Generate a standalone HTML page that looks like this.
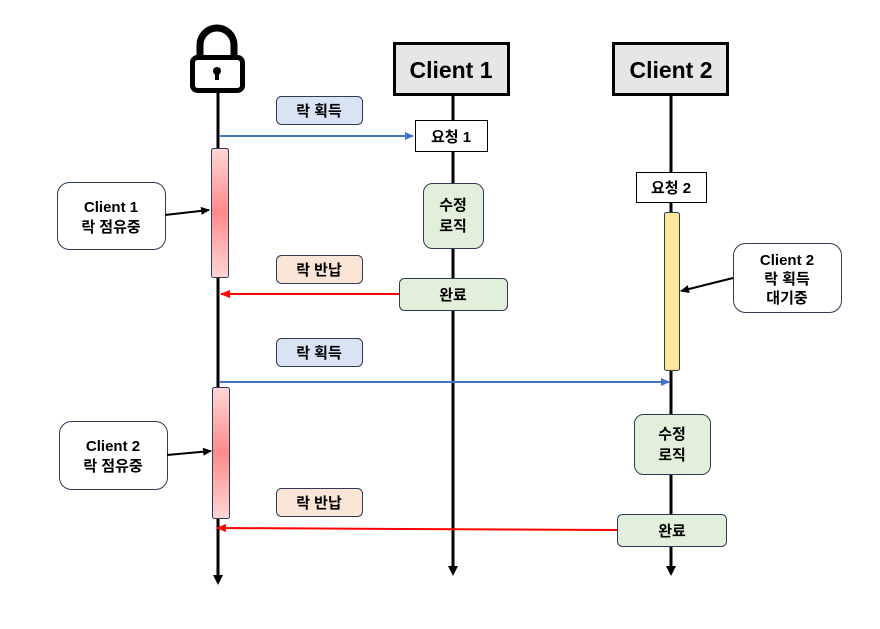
<!DOCTYPE html>
<html><head><meta charset="utf-8"><style>
html,body{margin:0;padding:0;background:#fff;}
svg{display:block;}
text{font-family:"Liberation Sans","Noto Sans CJK KR",sans-serif;font-size:15px;font-weight:bold;fill:#000;text-anchor:middle;}
</style></head><body>
<svg width="880" height="629" viewBox="0 0 880 629" xmlns="http://www.w3.org/2000/svg">
<defs>
<marker id="ak" markerWidth="10" markerHeight="10" refX="8" refY="5" orient="auto" markerUnits="userSpaceOnUse"><path d="M0,1 L9,5 L0,9 z" fill="#000"/></marker>
<marker id="ab" markerWidth="10" markerHeight="10" refX="8" refY="5" orient="auto" markerUnits="userSpaceOnUse"><path d="M0,1 L9,5 L0,9 z" fill="#4472c4"/></marker>
<marker id="ar" markerWidth="12" markerHeight="10" refX="9" refY="5" orient="auto" markerUnits="userSpaceOnUse"><path d="M0,1 L10,5 L0,9 z" fill="#f00"/></marker>
<linearGradient id="rg" x1="0" y1="0" x2="0" y2="1">
<stop offset="0" stop-color="#ffd6d6"/><stop offset="0.5" stop-color="#ff8a8a"/><stop offset="1" stop-color="#ffd6d6"/></linearGradient>
</defs>
<line x1="218" y1="92" x2="218" y2="576" stroke="#000" stroke-width="3"/>
<path d="M213,575 L223,575 L218,585 z" fill="#000"/>
<line x1="453" y1="95" x2="453" y2="566" stroke="#000" stroke-width="3"/>
<path d="M448,566 L458,566 L453,576 z" fill="#000"/>
<line x1="671" y1="95" x2="671" y2="566" stroke="#000" stroke-width="3"/>
<path d="M666,566 L676,566 L671,576 z" fill="#000"/>
<path d="M200,58 V45 A17,17 0 0 1 234,45 V58" fill="none" stroke="#000" stroke-width="7"/>
<rect x="192.5" y="57.5" width="50" height="33" rx="5" fill="#fff" stroke="#000" stroke-width="5"/>
<circle cx="217" cy="71" r="4" fill="#000"/>
<rect x="215" y="71" width="4" height="9" fill="#000"/>
<rect x="394.5" y="43.5" width="114" height="51" fill="#e6e6e6" stroke="#000" stroke-width="3"/>
<text x="451" y="78" style="font-size:23px">Client 1</text>
<rect x="613.5" y="43.5" width="114" height="51" fill="#e6e6e6" stroke="#000" stroke-width="3"/>
<text x="671" y="78" style="font-size:23px">Client 2</text>
<g stroke="#2f3b52" stroke-width="1">
<rect x="276.5" y="96.5" width="86" height="28" rx="5" fill="#dae3f3"/>
<rect x="276.5" y="255.5" width="86" height="28" rx="5" fill="#fbe5d6"/>
<rect x="276.5" y="338.5" width="86" height="28" rx="5" fill="#dae3f3"/>
<rect x="276.5" y="488.5" width="86" height="28" rx="5" fill="#fbe5d6"/>
</g>
<text x="319" y="116">락 획득</text>
<text x="319" y="275">락 반납</text>
<text x="319" y="358">락 획득</text>
<text x="319" y="508">락 반납</text>
<rect x="415.5" y="120.5" width="72" height="31" fill="#fff" stroke="#000" stroke-width="1"/>
<text x="451" y="142">요청 1</text>
<rect x="636.5" y="172.5" width="70" height="30" fill="#fff" stroke="#000" stroke-width="1"/>
<text x="671" y="193">요청 2</text>
<line x1="219" y1="136" x2="413" y2="136" stroke="#4472c4" stroke-width="2" marker-end="url(#ab)"/>
<line x1="219" y1="382" x2="669" y2="382" stroke="#4472c4" stroke-width="2" marker-end="url(#ab)"/>
<line x1="399" y1="294" x2="221" y2="294" stroke="#f00" stroke-width="2" marker-end="url(#ar)"/>
<line x1="617" y1="530" x2="217" y2="528" stroke="#f00" stroke-width="2" marker-end="url(#ar)"/>
<rect x="211.5" y="148.5" width="17" height="129" rx="2" fill="url(#rg)" stroke="#2f3b52"/>
<rect x="212.5" y="387.5" width="17" height="131" rx="2" fill="url(#rg)" stroke="#2f3b52"/>
<rect x="664.5" y="212.5" width="15" height="158" rx="2" fill="#ffe699" stroke="#2f3b52"/>
<g fill="#e2efda" stroke="#2f3b52" stroke-width="1">
<rect x="423.5" y="183.5" width="60" height="65" rx="9"/>
<rect x="399.5" y="278.5" width="108" height="32" rx="5"/>
<rect x="634.5" y="414.5" width="76" height="60" rx="9"/>
<rect x="617.5" y="514.5" width="109" height="32" rx="5"/>
</g>
<text x="453" y="210">수정</text><text x="453" y="231">로직</text>
<text x="453" y="300">완료</text>
<text x="672" y="439">수정</text><text x="672" y="460">로직</text>
<text x="672" y="536">완료</text>
<g fill="#fff" stroke="#2f3b52" stroke-width="1">
<rect x="57.5" y="182.5" width="108" height="67" rx="12"/>
<rect x="59.5" y="421.5" width="108" height="68" rx="12"/>
<rect x="733.5" y="243.5" width="108" height="69" rx="12"/>
</g>
<text x="111" y="212">Client 1</text><text x="111" y="232">락 점유중</text>
<text x="113" y="451">Client 2</text><text x="113" y="471">락 점유중</text>
<text x="787" y="265">Client 2</text><text x="787" y="284">락 획득</text><text x="787" y="303">대기중</text>
<line x1="165" y1="215" x2="209" y2="210" stroke="#000" stroke-width="2" marker-end="url(#ak)"/>
<line x1="167" y1="455" x2="211" y2="451" stroke="#000" stroke-width="2" marker-end="url(#ak)"/>
<line x1="733" y1="278" x2="681" y2="291" stroke="#000" stroke-width="2" marker-end="url(#ak)"/>
</svg>
</body></html>
